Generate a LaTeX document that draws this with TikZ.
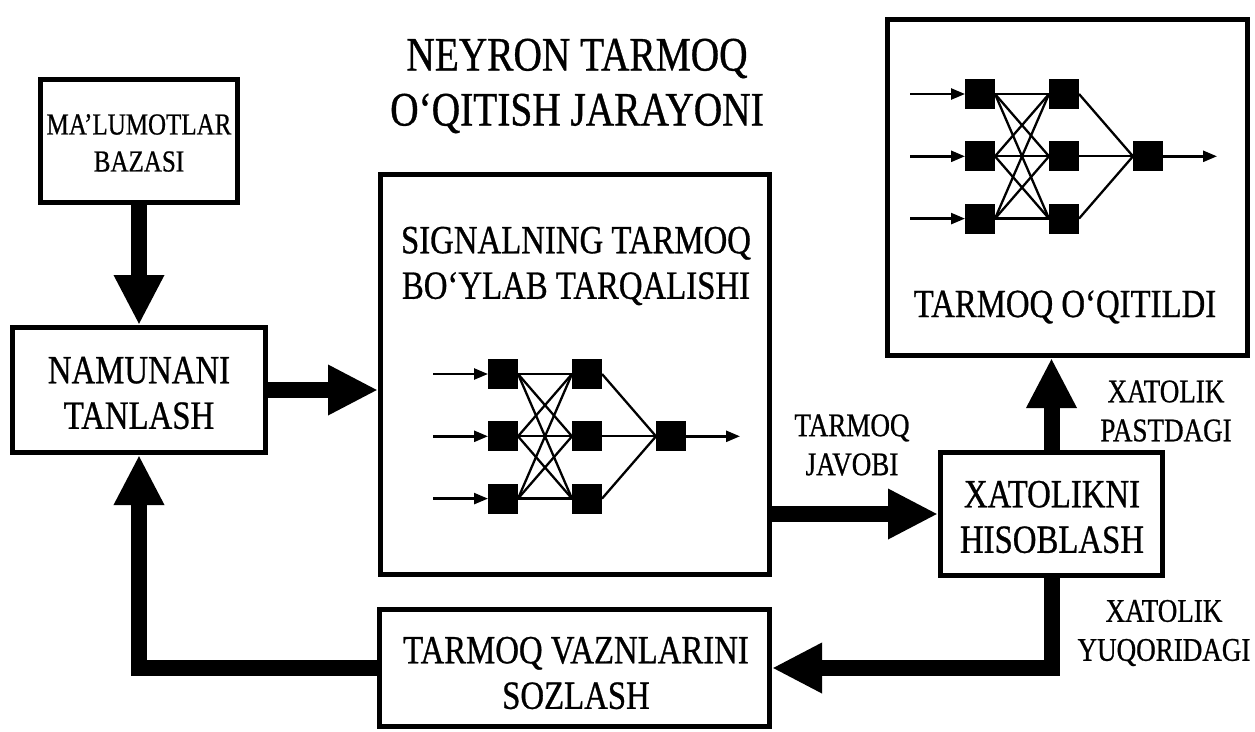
\documentclass[tikz,border=0pt]{standalone}
\usepackage{fontspec}
\setmainfont{Liberation Serif}[FakeStretch=0.82,FakeBold=0.7]
\usetikzlibrary{arrows.meta}

% small feed-forward network: 3 inputs, 3 hidden, 1 output
\newcommand{\nnet}[3]{%
  \begin{scope}[shift={(#2,#3)}]
    \foreach \r in {1,2,3}{
      \node[neuron] (#1a\r) at (0,{(\r-1)*62.3}) {};
      \node[neuron] (#1b\r) at (84,{(\r-1)*62.3}) {};
      \coordinate (#1i\r) at (-70,{(\r-1)*62.3});
    }
    \node[neuron] (#1o) at (168,62.3) {};
    \coordinate (#1e) at (237,62.3);
    \foreach \r in {1,2,3}{
      \draw[sig] (#1i\r) -- (#1a\r.west);
      \foreach \s in {1,2,3}{\draw[wire] (#1a\r.east) -- (#1b\s.west);}
      \draw[wire] (#1b\r.east) -- (#1o.west);
    }
    \draw[sig] (#1o.east) -- (#1e);
  \end{scope}}

\begin{document}
\begin{tikzpicture}[x=1pt,y=-1pt,
  box/.style={draw=black,line width=5pt,fill=white,inner sep=0pt},
  bigtxt/.style={align=center,inner sep=0pt,font=\fontsize{40}{45.5}\selectfont},
  smalltxt/.style={align=center,inner sep=0pt,font=\fontsize{33}{39}\selectfont},
  flow/.style={line width=16pt,-{Triangle[length=50pt,width=47pt]}},
  neuron/.style={fill=black,minimum size=30pt,inner sep=0pt,outer sep=0pt},
  wire/.style={line width=2.3pt},
  sig/.style={line width=2.5pt,-{Triangle[length=14pt,width=11pt]}}]

\useasboundingbox (0,0) rectangle (1255,731);
\fill[white] (0,0) rectangle (1255,731);

% title
\node[align=center,inner sep=0pt,font=\fontsize{48}{55}\selectfont] (title) at (577,86)
  {NEYRON TARMOQ\\O‘QITISH JARAYONI};

% blocks
\node[box,minimum width=197pt,minimum height=123pt] (data) at (139,141) {};
\node[smalltxt,font=\fontsize{30.5}{37}\selectfont] (datat) at (139,143) {MA’LUMOTLAR\\BAZASI};

\node[box,minimum width=253pt,minimum height=125pt] (pick) at (139,390) {};
\node[bigtxt] (pickt) at (139,393) {NAMUNANI\\TANLASH};

\node[box,minimum width=389pt,minimum height=400pt] (prop) at (575,374.5) {};
\node[bigtxt] (propt) at (576,266) {SIGNALNING TARMOQ\\BO‘YLAB TARQALISHI};

\node[box,minimum width=360pt,minimum height=336pt] (done) at (1067.5,187.5) {};
\node[bigtxt] (donet) at (1065,307) {TARMOQ O‘QITILDI};

\node[box,minimum width=222pt,minimum height=123pt] (err) at (1051.5,514) {};
\node[bigtxt] (errt) at (1052,517) {XATOLIKNI\\HISOBLASH};

\node[box,minimum width=390pt,minimum height=117pt] (adj) at (574.5,668) {};
\node[bigtxt] (adjt) at (576,673) {TARMOQ VAZNLARINI\\SOZLASH};

% networks inside blocks
\nnet{p}{503}{374}
\nnet{d}{980}{94}

% edge labels
\node[smalltxt] (lans) at (852,445) {TARMOQ\\JAVOBI};
\node[smalltxt] (llow) at (1166,411) {XATOLIK\\PASTDAGI};
\node[smalltxt] (lhigh) at (1164,633) {XATOLIK\\YUQORIDAGI};

% flow arrows
\draw[flow] (data.south) -- (pick.north);
\draw[flow] (pick.east) -- (pick.east -| prop.west);
\draw[flow] (err.west -| prop.east) -- (err.west);
\draw[flow] (err.north) -- (err.north |- done.south);
\draw[flow] (err.south) |- (adj.east);
\draw[flow] (adj.west) -| (pick.south);
\end{tikzpicture}
\end{document}
